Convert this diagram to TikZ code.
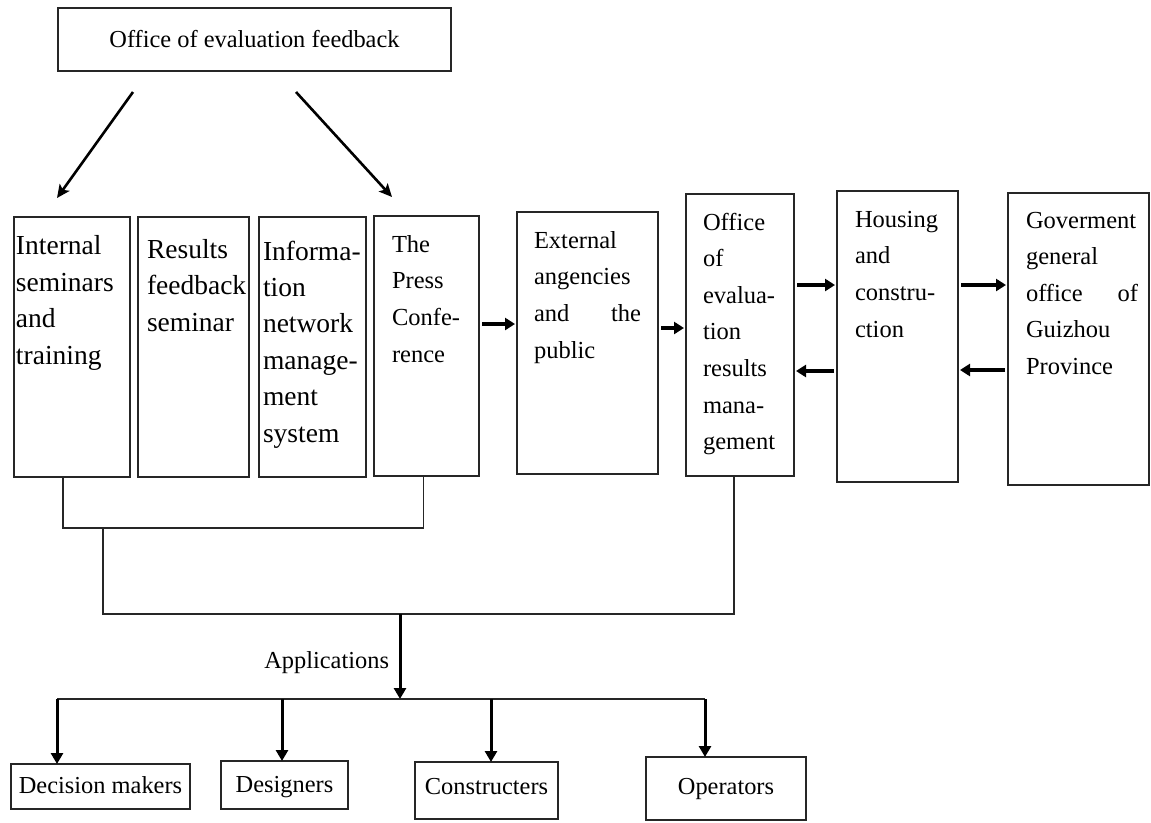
\documentclass[tikz,border=0pt]{standalone}
\usepackage{fontspec}
\setmainfont{Liberation Serif}
\usetikzlibrary{arrows.meta}
\tikzset{
  box/.style={draw=black!85, line width=1.4pt, inner sep=0pt, outer sep=0pt, anchor=north west},
  txt/.style={inner sep=0pt, outer sep=0pt, align=left, anchor=base west, font=\fontsize{24.5}{36.6}\selectfont},
  bigtxt/.style={txt, font=\fontsize{27.5}{36.4}\selectfont},
  lbl/.style={inner sep=0pt, outer sep=0pt, anchor=base, font=\fontsize{24.4}{29}\selectfont},
  conn/.style={line width=1.5pt, black!85},
  diag/.style={line width=2.6pt, -{Stealth[length=13pt,width=12pt,inset=3pt]}},
  harr/.style={line width=3.4pt, -{Triangle[length=10pt,width=12pt]}, shorten <=3pt, shorten >=2pt},
  darr/.style={line width=3pt, -{Triangle[length=11pt,width=12pt]}}
}
\begin{document}
\begin{tikzpicture}[x=1pt,y=-1pt]
\useasboundingbox (0,0) rectangle (1151,822);
% top box
\node[box, minimum width=393pt, minimum height=63pt, font=\fontsize{24.4}{29}\selectfont] (top) at (58,8) {Office of evaluation feedback};
% row of boxes
\node[box, minimum width=116pt, minimum height=260pt] (b1) at (14,217) {};
\node[box, minimum width=111pt, minimum height=260pt] (b2) at (138,217) {};
\node[box, minimum width=107pt, minimum height=260pt] (b3) at (259,217) {};
\node[box, minimum width=105pt, minimum height=260pt] (b4) at (374,216) {};
\node[box, minimum width=141pt, minimum height=262pt] (b5) at (517,212) {};
\node[box, minimum width=108pt, minimum height=282pt] (b6) at (686,194) {};
\node[box, minimum width=121pt, minimum height=291pt] (b7) at (837,191) {};
\node[box, minimum width=141pt, minimum height=292pt] (b8) at (1008,193) {};
% texts (anchored at the baseline of their last line)
\node[bigtxt] (x1) at (16,364) {Internal\\seminars\\and\\training};
\node[bigtxt] (x2) at (147,331) {Results\\feedback\\seminar};
\node[bigtxt] (x3) at (263,442) {Informa-\\tion\\network\\manage-\\ment\\system};
\node[txt] (x4) at (392,362) {The\\Press\\Confe-\\rence};
\node[txt] (x5) at (534,358) {External\\angencies\\\makebox[107pt][s]{and the}\\public};
\node[txt] (x6) at (703,449.6) {Office\\of\\evalua-\\tion\\results\\mana-\\gement};
\node[txt] (x7) at (855,337) {Housing\\and\\constru-\\ction};
\node[txt] (x8) at (1026,374.4) {Goverment\\general\\\makebox[112pt][s]{office of}\\Guizhou\\Province};
% top arrows
\coordinate (s1) at (133,92);
\coordinate (s2) at (296,92);
\draw[diag] (s1) -- (57,198);
\draw[diag] (s2) -- (392,197);
% horizontal arrows
\draw[harr] (b4.east |- 0,324) -- (b5.west |- 0,324);
\draw[harr] (b5.east |- 0,328) -- (b6.west |- 0,328);
\draw[harr] (b6.east |- 0,285) -- (b7.west |- 0,285);
\draw[harr] (b7.west |- 0,371) -- (b6.east |- 0,371);
\draw[harr] (b7.east |- 0,285) -- (b8.west |- 0,285);
\draw[harr] (b8.west |- 0,370) -- (b7.east |- 0,370);
% brackets
\draw[conn] ([xshift=-9pt]b1.south) -- ++(0,51) -| ([xshift=-3pt]b4.south);
\coordinate (j1) at (103,527);
\coordinate (hub) at (400,614);
\draw[conn] (j1) |- (hub) -| ([xshift=-6pt]b6.south);
% bottom boxes
\node[box, minimum width=179pt, minimum height=45pt] (d1) at (11,764) {};
\node[box, minimum width=127pt, minimum height=48pt] (d2) at (221,761) {};
\node[box, minimum width=143pt, minimum height=57pt] (d3) at (415,762) {};
\node[box, minimum width=160pt, minimum height=63pt] (d4) at (646,757) {};
\node[lbl] (l1) at (d1.north |- 0,793) {Decision makers};
\node[lbl] (l2) at (d2.north |- 0,792) {Designers};
\node[lbl] (l3) at (d3.north |- 0,794) {Constructers};
\node[lbl] (l4) at (d4.north |- 0,794) {Operators};
% applications
\coordinate (bar) at (400,699);
\draw[darr] (hub) -- (bar);
\node[lbl, anchor=base east] (app) at (389,668) {Applications};
\coordinate (e1) at (57,699);
\coordinate (e4) at (705,699);
\draw[conn] (e1) -- (e4);
\coordinate (e2) at (282,699);
\coordinate (e3) at (491,699);
\draw[darr] (e1) -- (e1 |- d1.north);
\draw[darr] (e2) -- (e2 |- d2.north);
\draw[darr] (e3) -- (e3 |- d3.north);
\draw[darr] (e4) -- (e4 |- d4.north);
\end{tikzpicture}
\end{document}
